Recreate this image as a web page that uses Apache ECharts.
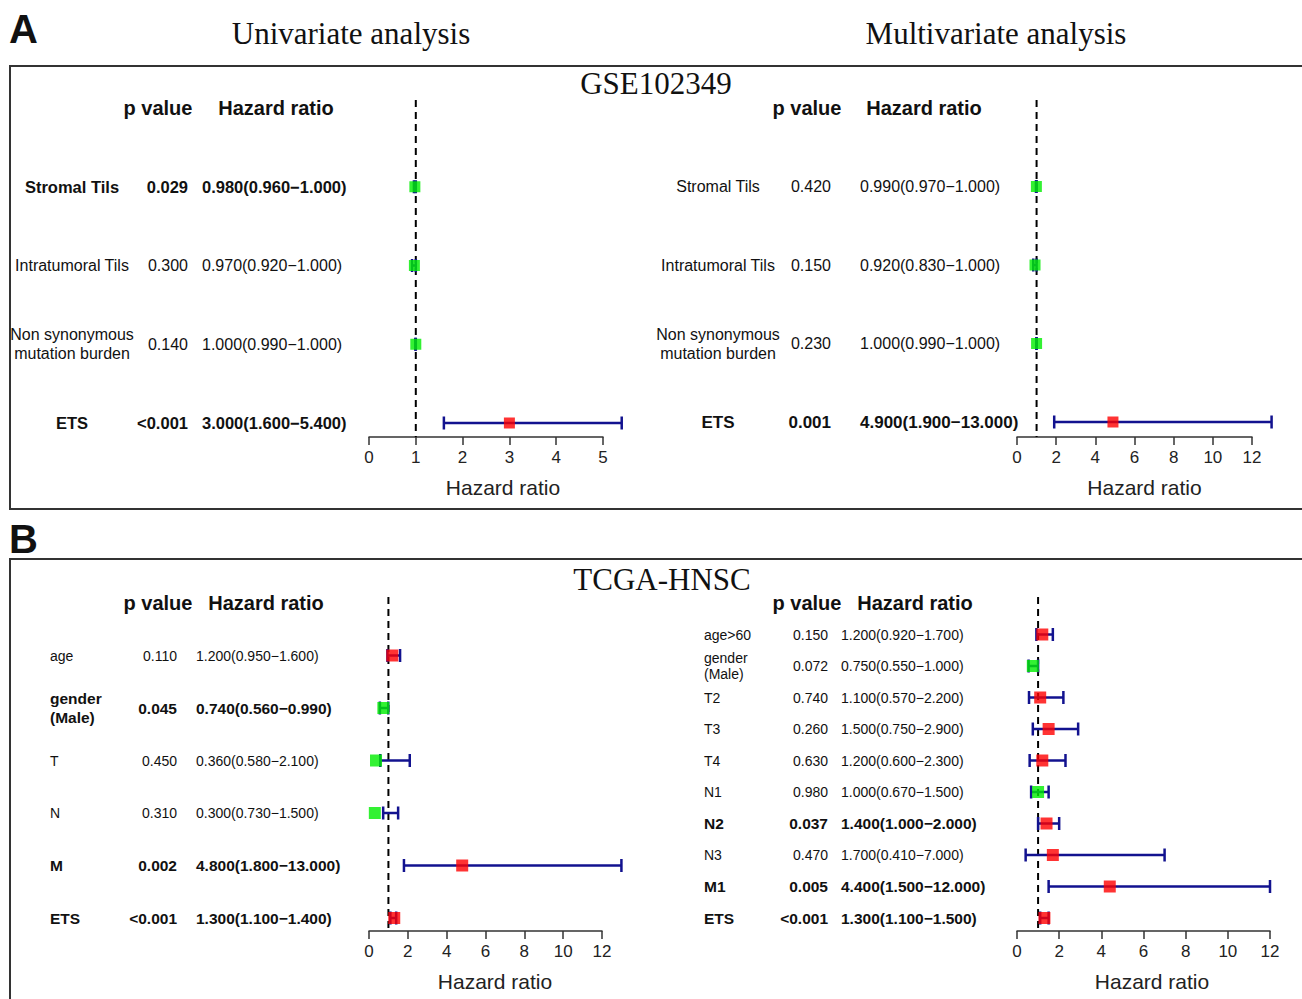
<!DOCTYPE html>
<html><head><meta charset="utf-8">
<script src="https://cdn.jsdelivr.net/npm/echarts@6/dist/echarts.min.js"></script>
<style>html,body{margin:0;padding:0;background:#fff}#c{width:1302px;height:999px}</style>
</head><body><div id="c"></div>
<script>
// ---------------- data ----------------
const gseUniLabels = ['Stromal Tils', 'Intratumoral Tils', 'Non synonymous\nmutation burden', 'ETS'];
const gseUniP = ['0.029', '0.300', '0.140', '<0.001'];
const gseUniHR = [0.98, 0.97, 1.0, 3.0];
const gseUniLow = [0.96, 0.92, 0.99, 1.6];
const gseUniHigh = [1.0, 1.0, 1.0, 5.4];
const gseUniTicks = [0, 1, 2, 3, 4, 5];

const gseMultiLabels = ['Stromal Tils', 'Intratumoral Tils', 'Non synonymous\nmutation burden', 'ETS'];
const gseMultiP = ['0.420', '0.150', '0.230', '0.001'];
const gseMultiHR = [0.99, 0.92, 1.0, 4.9];
const gseMultiLow = [0.97, 0.83, 0.99, 1.9];
const gseMultiHigh = [1.0, 1.0, 1.0, 13.0];
const gseMultiTicks = [0, 2, 4, 6, 8, 10, 12];

const tcgaUniLabels = ['age', 'gender\n(Male)', 'T', 'N', 'M', 'ETS'];
const tcgaUniP = ['0.110', '0.045', '0.450', '0.310', '0.002', '<0.001'];
const tcgaUniHR = [1.2, 0.74, 0.36, 0.30, 4.8, 1.3];
const tcgaUniLow = [0.95, 0.56, 0.58, 0.73, 1.8, 1.1];
const tcgaUniHigh = [1.6, 0.99, 2.1, 1.5, 13.0, 1.4];
const tcgaUniTicks = [0, 2, 4, 6, 8, 10, 12];

const tcgaMultiLabels = ['age>60', 'gender\n(Male)', 'T2', 'T3', 'T4', 'N1', 'N2', 'N3', 'M1', 'ETS'];
const tcgaMultiP = ['0.150', '0.072', '0.740', '0.260', '0.630', '0.980', '0.037', '0.470', '0.005', '<0.001'];
const tcgaMultiHR = [1.2, 0.75, 1.1, 1.5, 1.2, 1.0, 1.4, 1.7, 4.4, 1.3];
const tcgaMultiLow = [0.92, 0.55, 0.57, 0.75, 0.60, 0.67, 1.0, 0.41, 1.5, 1.1];
const tcgaMultiHigh = [1.7, 1.0, 2.2, 2.9, 2.3, 1.5, 2.0, 7.0, 12.0, 1.5];
const tcgaMultiTicks = [0, 2, 4, 6, 8, 10, 12];

const refHR = 1;
const headerP = 'p value';
const headerHR = 'Hazard ratio';
const axisTitle = 'Hazard ratio';
const titleUni = 'Univariate analysis';
const titleMulti = 'Multivariate analysis';
const titleGSE = 'GSE102349';
const titleTCGA = 'TCGA-HNSC';

// ---------------- styling / layout ----------------
const SANS = "'Liberation Sans', Arial, Helvetica, sans-serif";
const SERIF = "'Liberation Serif', 'Times New Roman', serif";
const NAVY = '#12128f';
const GREEN = '#00ee00';
const RED = '#ff0000';
const MINUS = '\u2212';

const panels = [
  {labels: gseUniLabels, p: gseUniP, hr: gseUniHR, lo: gseUniLow, hi: gseUniHigh, ticks: gseUniTicks,
   grid: {left: 369, top: 108, width: 234, height: 315}, offset: 14, nameShift: 34,
   labelX: 72, labelAlign: 'center', pX: 188, hrX: 202, hpX: 158, hhX: 276,
   fs: 16, fsB: 16.5, lh: 19, cap: 6.5, sym: 11, dashTop: 8},
  {labels: gseMultiLabels, p: gseMultiP, hr: gseMultiHR, lo: gseMultiLow, hi: gseMultiHigh, ticks: gseMultiTicks,
   grid: {left: 1017, top: 108, width: 235, height: 314}, offset: 15, nameShift: 20,
   labelX: 718, labelAlign: 'center', pX: 831, hrX: 860, hpX: 807, hhX: 924,
   fs: 16, fsB: 17, lh: 19, cap: 6.5, sym: 11, dashTop: 8},
  {labels: tcgaUniLabels, p: tcgaUniP, hr: tcgaUniHR, lo: tcgaUniLow, hi: tcgaUniHigh, ticks: tcgaUniTicks,
   grid: {left: 369, top: 603, width: 233, height: 315}, offset: 13, nameShift: 19,
   labelX: 50, labelAlign: 'left', pX: 177, hrX: 196, hpX: 158, hhX: 266,
   fs: 14, fsB: 15.5, lh: 19, cap: 6.5, sym: 12, dashTop: 6},
  {labels: tcgaMultiLabels, p: tcgaMultiP, hr: tcgaMultiHR, lo: tcgaMultiLow, hi: tcgaMultiHigh, ticks: tcgaMultiTicks,
   grid: {left: 1017, top: 603, width: 253, height: 315}, offset: 13, nameShift: 17,
   labelX: 704, labelAlign: 'left', pX: 828, hrX: 841, hpX: 807, hhX: 915,
   fs: 14, fsB: 15.5, lh: 16, cap: 6.5, sym: 12, dashTop: 6}
];

function isSig(pStr) { return parseFloat(pStr.replace('<', '')) < 0.05; }
function hrText(h, l, u) { return h.toFixed(3) + '(' + l.toFixed(3) + MINUS + u.toFixed(3) + ')'; }
function txt(x, y, text, font, align, lh) {
  const st = {text: text, font: font, fill: '#111', align: align, textAlign: align,
              verticalAlign: 'middle', textVerticalAlign: 'middle'};
  if (lh) st.lineHeight = lh;
  return {type: 'text', x: x, y: y, style: st};
}

const grids = [], xAxes = [], yAxes = [], series = [];
panels.forEach(function (P, k) {
  const n = P.labels.length;
  grids.push(Object.assign({containLabel: false}, P.grid));
  const t = P.ticks;
  xAxes.push({
    gridIndex: k, type: 'value', position: 'bottom', min: t[0], max: t[t.length - 1], interval: t[1] - t[0],
    offset: P.offset, splitLine: {show: false},
    axisLine: {onZero: false, lineStyle: {color: '#333', width: 1.5}},
    axisTick: {length: 8, lineStyle: {color: '#333', width: 1.5}},
    axisLabel: {margin: 12, fontSize: 17, color: '#222', fontFamily: SANS},
    name: axisTitle, nameLocation: 'middle', nameGap: 40,
    nameTextStyle: {fontSize: 21, color: '#222', fontFamily: SANS, padding: [0, 0, 0, P.nameShift]}
  });
  yAxes.push({gridIndex: k, type: 'value', min: 0, max: n, inverse: true, show: false});

  const rows = P.labels.map(function (_, i) { return [P.hr[i], i + 1, P.lo[i], P.hi[i], i]; });

  // reference dashed line at HR = 1
  series.push({
    type: 'custom', xAxisIndex: k, yAxisIndex: k, z: 1, clip: false, silent: true,
    data: [[refHR, 0]],
    renderItem: function (params, api) {
      const pTop = api.coord([api.value(0), 0]);
      const pBot = api.coord([api.value(0), n]);
      return {type: 'line', shape: {x1: pTop[0], y1: pTop[1] - P.dashTop, x2: pTop[0], y2: pBot[1] + P.offset},
              style: {stroke: '#000', lineWidth: 2, lineDash: [7, 5]}};
    }
  });
  // error bars
  series.push({
    type: 'custom', xAxisIndex: k, yAxisIndex: k, z: 2, clip: false, silent: true,
    data: rows,
    renderItem: function (params, api) {
      const y = api.coord([0, api.value(1)])[1];
      const x1 = api.coord([api.value(2), 0])[0];
      const x2 = api.coord([api.value(3), 0])[0];
      const st = {stroke: NAVY, lineWidth: 2.5};
      const c = P.cap;
      return {type: 'group', children: [
        {type: 'line', shape: {x1: x1, y1: y, x2: x2, y2: y}, style: st},
        {type: 'line', shape: {x1: x1, y1: y - c, x2: x1, y2: y + c}, style: st},
        {type: 'line', shape: {x1: x2, y1: y - c, x2: x2, y2: y + c}, style: st}
      ]};
    }
  });
  // hazard ratio squares
  series.push({
    type: 'scatter', xAxisIndex: k, yAxisIndex: k, z: 3, clip: false, silent: true,
    symbol: 'rect', symbolSize: P.sym,
    data: rows.map(function (r) {
      return {value: [r[0], r[1]], itemStyle: {color: r[0] > refHR ? RED : GREEN}};
    })
  });
  // table text rows
  series.push({
    type: 'custom', xAxisIndex: k, yAxisIndex: k, z: 4, clip: false, silent: true,
    data: rows,
    renderItem: function (params, api) {
      const i = api.value(4);
      const y = api.coord([0, api.value(1)])[1];
      const b = isSig(P.p[i]);
      const font = b ? ('bold ' + P.fsB + 'px ' + SANS) : (P.fs + 'px ' + SANS);
      return {type: 'group', children: [
        txt(P.labelX, y, P.labels[i], font, P.labelAlign, P.lh),
        txt(P.pX, y, P.p[i], font, 'right'),
        txt(P.hrX, y, hrText(P.hr[i], P.lo[i], P.hi[i]), font, 'left')
      ]};
    }
  });
  // header row
  series.push({
    type: 'custom', xAxisIndex: k, yAxisIndex: k, z: 4, clip: false, silent: true,
    data: [[0, 0]],
    renderItem: function (params, api) {
      const y = api.coord([0, api.value(1)])[1];
      const font = 'bold 20px ' + SANS;
      return {type: 'group', children: [
        txt(P.hpX, y, headerP, font, 'center'),
        txt(P.hhX, y, headerHR, font, 'center')
      ]};
    }
  });
});

function gtext(x, y, text, font, align) {
  return {type: 'text', x: x, y: y, silent: true,
          style: {text: text, font: font, fill: '#111', align: align, textAlign: align,
                  verticalAlign: 'middle', textVerticalAlign: 'middle'}};
}

const chart = echarts.init(document.getElementById('c'), null, {renderer: 'svg'});
chart.setOption({
  backgroundColor: '#fff',
  animation: false,
  grid: grids, xAxis: xAxes, yAxis: yAxes, series: series,
  graphic: [
    {type: 'rect', silent: true, shape: {x: 10, y: 66, width: 1300, height: 443}, style: {fill: 'none', stroke: '#333', lineWidth: 2}},
    {type: 'rect', silent: true, shape: {x: 10, y: 559, width: 1300, height: 500}, style: {fill: 'none', stroke: '#333', lineWidth: 2}},
    gtext(9, 29, 'A', 'bold 40px ' + SANS, 'left'),
    gtext(9, 539, 'B', 'bold 40px ' + SANS, 'left'),
    gtext(351, 33, titleUni, '31px ' + SERIF, 'center'),
    gtext(996, 33, titleMulti, '31px ' + SERIF, 'center'),
    gtext(656, 83, titleGSE, '31px ' + SERIF, 'center'),
    gtext(662, 579, titleTCGA, '31px ' + SERIF, 'center')
  ]
});
</script>
</body></html>
